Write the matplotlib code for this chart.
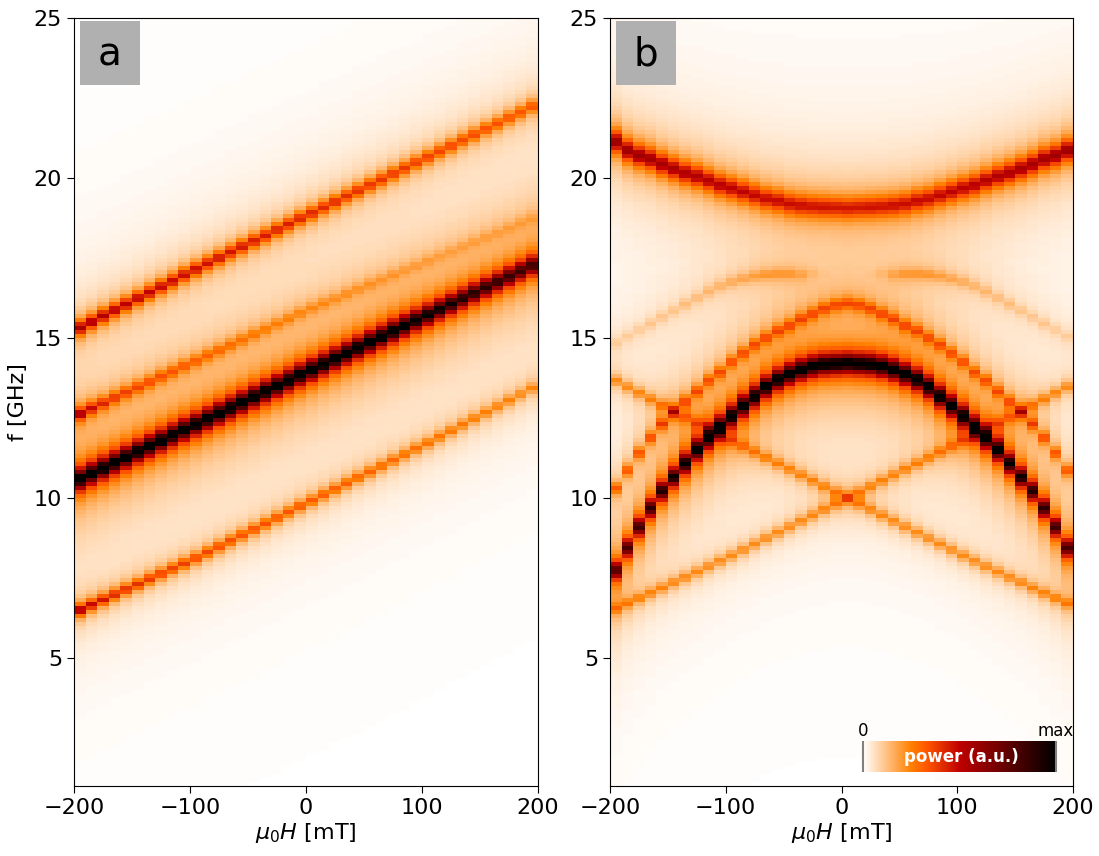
import numpy as np
import matplotlib
matplotlib.use("Agg")
import matplotlib.pyplot as plt
from matplotlib.patches import Rectangle

# ---------------- data ----------------
# field samples (mT) -- one column per sample, drawn from its value to the next edge
field_mT = np.arange(-200, 200, 10)            # 40 columns
field_edges_mT = np.arange(-200, 201, 10)
freq_edges_GHz = np.arange(1.0, 25.0001, 0.125)
freq_centers_GHz = 0.5 * (freq_edges_GHz[:-1] + freq_edges_GHz[1:])

# ---- panel a : mode frequencies (GHz) per field column ----
a_main_f = [10.59, 10.76, 10.93, 11.10, 11.27, 11.45, 11.62, 11.79, 11.96, 12.13,
            12.30, 12.47, 12.64, 12.81, 12.98, 13.16, 13.33, 13.50, 13.67, 13.84,
            14.01, 14.18, 14.35, 14.52, 14.69, 14.87, 15.04, 15.21, 15.38, 15.55,
            15.72, 15.89, 16.06, 16.23, 16.40, 16.58, 16.75, 16.92, 17.09, 17.26]
a_main_amp = [1.0] * 28 + [0.97, 0.94, 0.91, 0.88, 0.85, 0.82, 0.80, 0.78, 0.76, 0.75, 0.74, 0.73]

a_upper_f = [15.32, 15.50, 15.69, 15.87, 16.05, 16.24, 16.42, 16.60, 16.78, 16.97,
             17.15, 17.33, 17.50, 17.68, 17.85, 18.03, 18.20, 18.38, 18.55, 18.73,
             18.90, 19.08, 19.25, 19.43, 19.60, 19.78, 19.95, 20.13, 20.30, 20.48,
             20.65, 20.83, 21.00, 21.18, 21.35, 21.53, 21.70, 21.88, 22.05, 22.23]
a_upper_amp = [0.50, 0.48, 0.47, 0.46, 0.45, 0.44, 0.44, 0.43, 0.43, 0.42,
               0.42, 0.41, 0.41, 0.40, 0.40, 0.39, 0.39, 0.38, 0.38, 0.37,
               0.37, 0.36, 0.36, 0.35, 0.35, 0.34, 0.34, 0.33, 0.33, 0.32,
               0.32, 0.31, 0.31, 0.30, 0.30, 0.29, 0.29, 0.28, 0.28, 0.28]

a_mid_f = [12.63, 12.80, 12.96, 13.13, 13.29, 13.46, 13.62, 13.79, 13.95, 14.12,
           14.28, 14.45, 14.61, 14.78, 14.94, 15.11, 15.27, 15.44, 15.60, 15.77,
           15.93, 16.08, 16.22, 16.37, 16.52, 16.67, 16.81, 16.96, 17.11, 17.25,
           17.40, 17.55, 17.70, 17.84, 17.99, 18.14, 18.28, 18.43, 18.58, 18.72]
a_mid_amp = [0.46, 0.38, 0.33, 0.30, 0.28, 0.27, 0.26, 0.25, 0.24, 0.23,
             0.22, 0.21, 0.20, 0.19, 0.18, 0.17, 0.16, 0.15, 0.15, 0.14,
             0.13, 0.13, 0.12, 0.12, 0.11, 0.11, 0.10, 0.10, 0.09, 0.09,
             0.09, 0.08, 0.08, 0.08, 0.08, 0.08, 0.08, 0.08, 0.08, 0.08]

a_low_f = [6.50, 6.66, 6.82, 6.98, 7.14, 7.30, 7.47, 7.63, 7.79, 7.95,
           8.12, 8.30, 8.48, 8.66, 8.84, 9.02, 9.20, 9.38, 9.56, 9.74,
           9.92, 10.10, 10.28, 10.46, 10.64, 10.82, 11.00, 11.18, 11.36, 11.54,
           11.72, 11.91, 12.10, 12.29, 12.48, 12.67, 12.86, 13.05, 13.24, 13.43]
a_low_amp = [0.50, 0.44, 0.40, 0.38, 0.36, 0.35, 0.34, 0.33, 0.32, 0.32,
             0.31, 0.31, 0.30, 0.30, 0.29, 0.29, 0.29, 0.28, 0.28, 0.28,
             0.27, 0.27, 0.26, 0.26, 0.25, 0.25, 0.24, 0.24, 0.23, 0.23,
             0.22, 0.22, 0.21, 0.21, 0.20, 0.20, 0.19, 0.19, 0.18, 0.18]

# ---- panel b : symmetric modes, listed by |H| = 0, 10, ..., 200 mT ----
b_main_f = [14.21, 14.19, 14.17, 14.11, 14.01, 13.87, 13.70, 13.47, 13.17, 12.88,
            12.56, 12.22, 11.88, 11.51, 11.08, 10.65, 10.22, 9.68, 9.09, 8.44, 7.74]
b_main_amp = [1.0] * 14 + [0.92, 0.86, 0.81, 0.77, 0.73, 0.70, 0.67]

b_upper_f = [19.06, 19.08, 19.09, 19.11, 19.14, 19.19, 19.28, 19.35, 19.46, 19.57,
             19.68, 19.78, 19.92, 20.05, 20.16, 20.29, 20.43, 20.59, 20.70, 20.86, 21.13]
b_upper_amp = [0.38, 0.38, 0.39, 0.39, 0.40, 0.40, 0.41, 0.41, 0.42, 0.43,
               0.44, 0.45, 0.46, 0.47, 0.48, 0.49, 0.50, 0.51, 0.52, 0.53, 0.54]

b_arch_f = [16.08, 16.02, 15.91, 15.75, 15.59, 15.38, 15.22, 15.00, 14.78, 14.52,
            14.25, 13.92, 13.66, 13.33, 13.01, 12.69, 12.31, 11.88, 11.40, 10.86, 10.30]
b_arch_amp = [0.25] * 15 + [0.28, 0.28, 0.27, 0.26, 0.26, 0.26]

b_faint_f = [17.00, 17.00, 17.00, 17.00, 16.98, 17.00, 17.00, 16.98, 16.93, 16.85,
             16.75, 16.62, 16.45, 16.25, 16.05, 15.85, 15.65, 15.45, 15.25, 15.05, 14.85]
b_faint_amp = [0.00, 0.00, 0.01, 0.04, 0.09, 0.12, 0.13, 0.13, 0.12, 0.11,
               0.10, 0.09, 0.09, 0.08, 0.08, 0.07, 0.07, 0.07, 0.06, 0.06, 0.06]

# ---- panel b : the two straight crossing lines (per field column) ----
b_rise_f = [6.55, 6.71, 6.87, 7.03, 7.19, 7.36, 7.52, 7.69, 7.86, 8.03,
            8.20, 8.38, 8.56, 8.74, 8.92, 9.10, 9.28, 9.46, 9.64, 9.82,
            10.00, 10.18, 10.36, 10.54, 10.72, 10.90, 11.08, 11.26, 11.44, 11.62,
            11.80, 11.98, 12.16, 12.34, 12.52, 12.71, 12.90, 13.09, 13.28, 13.47]
b_fall_f = [13.66, 13.47, 13.28, 13.09, 12.90, 12.71, 12.52, 12.34, 12.16, 11.98,
            11.80, 11.62, 11.44, 11.26, 11.08, 10.90, 10.72, 10.54, 10.36, 10.18,
            10.00, 9.82, 9.64, 9.46, 9.28, 9.10, 8.92, 8.74, 8.56, 8.38,
            8.20, 8.03, 7.86, 7.69, 7.52, 7.36, 7.19, 7.03, 6.87, 6.71]
b_line_amp = 0.19


# ---------------- build power maps ----------------
def by_abs_field(values):
    idx = (np.abs(field_mT) // 10).astype(int)
    return np.asarray(values)[idx]


def power_map(modes):
    fc = freq_centers_GHz[:, None]
    Z = np.zeros((len(freq_centers_GHz), len(field_mT)))
    for freqs, amps, width, glow_amp, glow_width in modes:
        F = np.asarray(freqs, dtype=float)[None, :]
        A = np.broadcast_to(np.asarray(amps, dtype=float), F.shape[1:])[None, :]
        d2 = (fc - F) ** 2
        Z += A * width ** 2 / (d2 + width ** 2)
        Z += glow_amp * glow_width ** 2 / (d2 + glow_width ** 2)
    return Z


Z_a = power_map([
    (a_main_f, a_main_amp, 0.25, 0.10, 1.9),
    (a_upper_f, a_upper_amp, 0.20, 0.04, 1.4),
    (a_mid_f, a_mid_amp, 0.18, 0.03, 1.0),
    (a_low_f, a_low_amp, 0.16, 0.035, 0.9),
])

Z_b = power_map([
    (by_abs_field(b_main_f), by_abs_field(b_main_amp), 0.24, 0.10, 1.7),
    (by_abs_field(b_upper_f), by_abs_field(b_upper_amp), 0.30, 0.06, 1.8),
    (by_abs_field(b_arch_f), by_abs_field(b_arch_amp), 0.17, 0.03, 1.0),
    (by_abs_field(b_faint_f), by_abs_field(b_faint_amp), 0.17, 0.02, 1.0),
    (b_rise_f, b_line_amp, 0.16, 0.02, 0.9),
    (b_fall_f, b_line_amp, 0.16, 0.02, 0.9),
])

# ---------------- figure ----------------
W, H = 1099, 856
fig = plt.figure(figsize=(W / 100, H / 100), dpi=100)
ax_a = fig.add_axes([74 / W, 70 / H, 464 / W, 768 / H])
ax_b = fig.add_axes([610 / W, 70 / H, 463 / W, 768 / H])

cmap = "gist_heat_r"
for ax, Z, letter in [(ax_a, Z_a, "a"), (ax_b, Z_b, "b")]:
    mesh = ax.pcolormesh(field_edges_mT, freq_edges_GHz, Z, cmap=cmap,
                         vmin=0, vmax=1, shading="flat", rasterized=True)
    ax.set_xlim(-200, 200)
    ax.set_ylim(1, 25)
    ax.set_xticks([-200, -100, 0, 100, 200])
    ax.set_yticks([5, 10, 15, 20, 25])
    ax.tick_params(labelsize=16, length=5)
    ax.set_xlabel(r"$\mu_0H$ [mT]", fontsize=16, labelpad=2)
    ax.add_patch(Rectangle((0.013, 0.913), 0.129, 0.083, transform=ax.transAxes,
                           facecolor="#b0b0b0", edgecolor="none", zorder=5))
    ax.text(0.0775, 0.953, letter, transform=ax.transAxes, ha="center", va="center",
            fontsize=28, color="black", zorder=6)

ax_a.set_ylabel("f [GHz]", fontsize=16)

# colour bar inset
cax = ax_b.inset_axes([0.546, 0.018, 0.417, 0.040])
cb = fig.colorbar(mesh, cax=cax, orientation="horizontal", ticks=[0, 1])
cb.outline.set_visible(False)
cax.xaxis.set_ticks_position("top")
cb.set_ticklabels(["0", "max"])
cax.tick_params(direction="in", length=22, width=1.5, color="grey",
                labelsize=12, pad=1)
cax.text(0.51, 0.48, "power (a.u.)", transform=cax.transAxes, ha="center",
         va="center", color="white", fontweight="bold", fontsize=12)

fig.savefig("out.png", dpi=100)
